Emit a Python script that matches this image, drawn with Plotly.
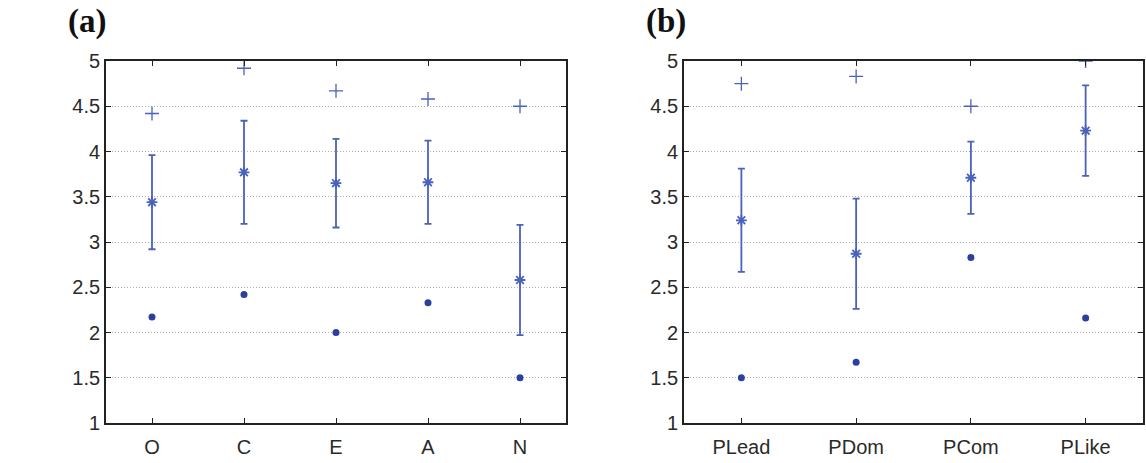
import plotly.graph_objects as go

cats_a = ["O", "C", "E", "A", "N"]
max_a = [4.42, 4.92, 4.67, 4.58, 4.50]
mean_a = [3.44, 3.77, 3.65, 3.66, 2.58]
sd_a = [0.52, 0.57, 0.49, 0.46, 0.61]
min_a = [2.17, 2.42, 2.00, 2.33, 1.50]

cats_b = ["PLead", "PDom", "PCom", "PLike"]
max_b = [4.75, 4.83, 4.50, 5.00]
mean_b = [3.24, 2.87, 3.71, 4.23]
sd_b = [0.57, 0.61, 0.40, 0.50]
min_b = [1.50, 1.67, 2.83, 2.16]

yticks = [1, 1.5, 2, 2.5, 3, 3.5, 4, 4.5, 5]
ytick_text = ["1", "1.5", "2", "2.5", "3", "3.5", "4", "4.5", "5"]

LINE = "#4a62bd"
DOT = "#2c3f9f"

fig = go.Figure()

def add_panel(cats, mx, mean, sd, mn, xa, ya):
    xs = list(range(1, len(cats) + 1))
    fig.add_trace(go.Scatter(x=xs, y=mean, mode="markers", xaxis=xa, yaxis=ya,
                             marker=dict(symbol="asterisk-open", size=9, color=LINE,
                                         line=dict(color=LINE, width=1.8)),
                             error_y=dict(type="data", array=sd, visible=True,
                                          color=LINE, thickness=1.8, width=3.5),
                             showlegend=False))
    fig.add_trace(go.Scatter(x=xs, y=mx, mode="markers", xaxis=xa, yaxis=ya,
                             marker=dict(symbol="cross-thin", size=10, color=LINE,
                                         line=dict(color=LINE, width=1.3)),
                             showlegend=False))
    fig.add_trace(go.Scatter(x=xs, y=mn, mode="markers", xaxis=xa, yaxis=ya,
                             marker=dict(symbol="circle", size=7, color=DOT),
                             showlegend=False))

add_panel(cats_a, max_a, mean_a, sd_a, min_a, "x", "y")
add_panel(cats_b, max_b, mean_b, sd_b, min_b, "x2", "y2")

W, H = 1146, 463
ydom = [(H - 423) / H, (H - 61) / H]
font = dict(family="Liberation Sans, Arial, sans-serif", size=20, color="#2a2a2a")

def xaxis(cats, dom):
    return dict(domain=dom, range=[0.5, len(cats) + 0.5], automargin=False,
                tickvals=list(range(1, len(cats) + 1)), ticktext=cats,
                ticks="inside", ticklen=5, tickcolor="#222222", tickwidth=1,
                ticklabelstandoff=5,
                showline=True, linecolor="#222222", linewidth=1.8, mirror="ticks",
                showgrid=False, zeroline=False, tickfont=font, fixedrange=True)

def yaxis(anchor):
    return dict(domain=ydom, range=[1, 5], anchor=anchor, automargin=False,
                tickvals=yticks, ticktext=ytick_text,
                ticks="inside", ticklen=5, tickcolor="#222222", tickwidth=1,
                showline=True, linecolor="#222222", linewidth=1.8, mirror="ticks",
                showgrid=True, gridcolor="#b0b0b0", griddash="1px,2px", gridwidth=1,
                zeroline=False, tickfont=font, fixedrange=True)

fig.update_layout(
    width=W, height=H, margin=dict(l=0, r=0, t=0, b=0),
    plot_bgcolor="white", paper_bgcolor="white",
    xaxis=xaxis(cats_a, [106 / W, 566 / W]),
    yaxis=yaxis("x"),
    xaxis2=xaxis(cats_b, [684 / W, 1143 / W]),
    yaxis2=yaxis("x2"),
    annotations=[
        dict(text="<b>(a)</b>", x=66 / W, y=(H - 21) / H, xref="paper", yref="paper",
             xanchor="left", yanchor="middle", showarrow=False,
             font=dict(family="Liberation Serif, Times New Roman, serif", size=33, color="#111111")),
        dict(text="<b>(b)</b>", x=644 / W, y=(H - 21) / H, xref="paper", yref="paper",
             xanchor="left", yanchor="middle", showarrow=False,
             font=dict(family="Liberation Serif, Times New Roman, serif", size=33, color="#111111")),
    ],
)

fig.write_html("out.html")
